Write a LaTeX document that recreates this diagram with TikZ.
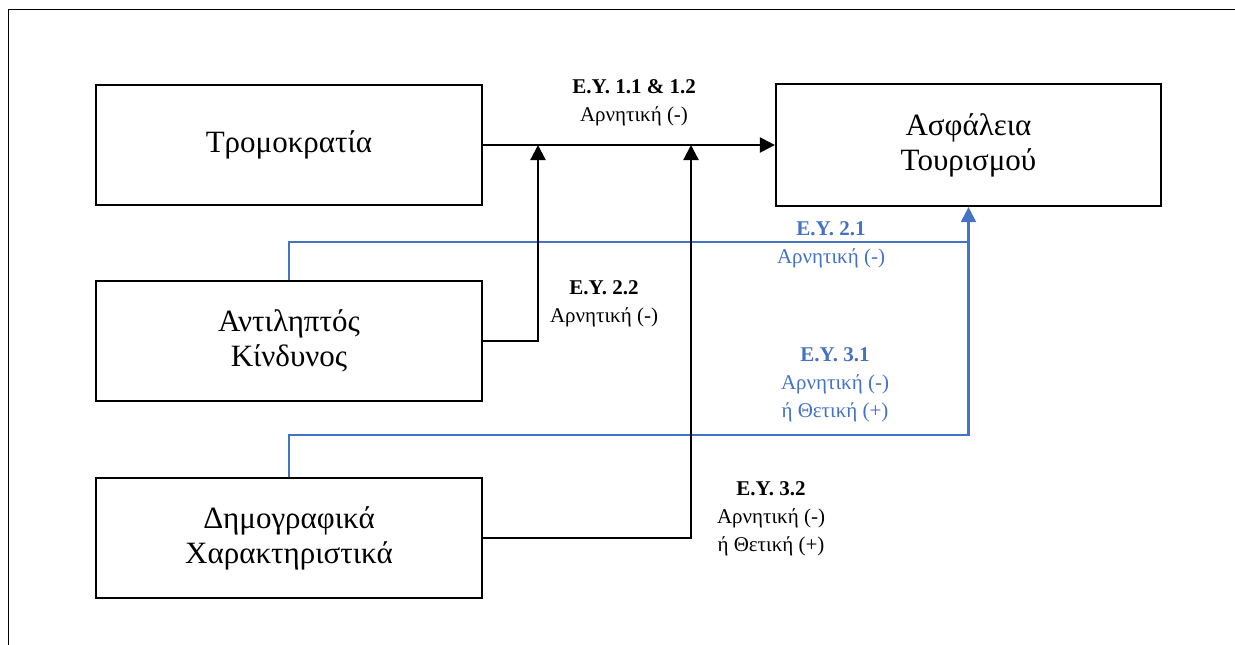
\documentclass[tikz,border=0pt]{standalone}
\usepackage{fontspec}
\setmainfont{Liberation Serif}
\usetikzlibrary{arrows.meta}
\definecolor{ablue}{RGB}{68,114,196}
\begin{document}
\begin{tikzpicture}[x=1pt,y=-1pt,
  box/.style={draw,line width=2.2pt,minimum width=386pt,minimum height=120pt,
    font=\fontsize{31}{35}\selectfont,align=center,inner sep=0pt},
  lbl/.style={font=\fontsize{21}{28}\selectfont,align=center,inner sep=0pt},
  barr/.style={draw=ablue,line width=2.2pt,-{Triangle[length=15pt,width=15pt]}},
  bline/.style={draw=ablue,line width=2.2pt},
  karr/.style={draw,line width=2.2pt,-{Triangle[length=15pt,width=15pt]}}]
\useasboundingbox (0,0) rectangle (1235,645);
\draw[line width=1pt] (8,645) -- (8,9) -- (1235,9);

\node[box] (tro) at (289,145) {Τρομοκρατία};
\node[box,minimum width=385pt,minimum height=122pt] (asf) at (968.5,145) {Ασφάλεια\\Τουρισμού};
\node[box] (ant) at (289,341) {Αντιληπτός\\Κίνδυνος};
\node[box] (dem) at (289,538) {Δημογραφικά\\Χαρακτηριστικά};

\coordinate (b1) at (968.5,242);
\coordinate (b2) at (968.5,435);
\coordinate (j1) at (538,145);
\coordinate (j2) at (691,145);

\draw[bline] (dem.north) |- (b2) -- (b1);
\draw[barr] (ant.north) |- (b1) -- (asf.south);

\draw[karr] (tro.east) -- (asf.west);
\draw[karr] (ant.east) -| (j1);
\draw[karr] (dem.east) -| (j2);

\node[lbl] (l1) at (634,103) {\textbf{Ε.Υ. 1.1 \& 1.2}\\Αρνητική (-)};
\node[lbl,text=ablue] (l21) at (831,245) {\textbf{Ε.Υ. 2.1}\\Αρνητική (-)};
\node[lbl] (l22) at (604,304) {\textbf{Ε.Υ. 2.2}\\Αρνητική (-)};
\node[lbl,text=ablue] (l31) at (835,385) {\textbf{Ε.Υ. 3.1}\\Αρνητική (-)\\ή Θετική (+)};
\node[lbl] (l32) at (771,519) {\textbf{Ε.Υ. 3.2}\\Αρνητική (-)\\ή Θετική (+)};
\end{tikzpicture}
\end{document}
